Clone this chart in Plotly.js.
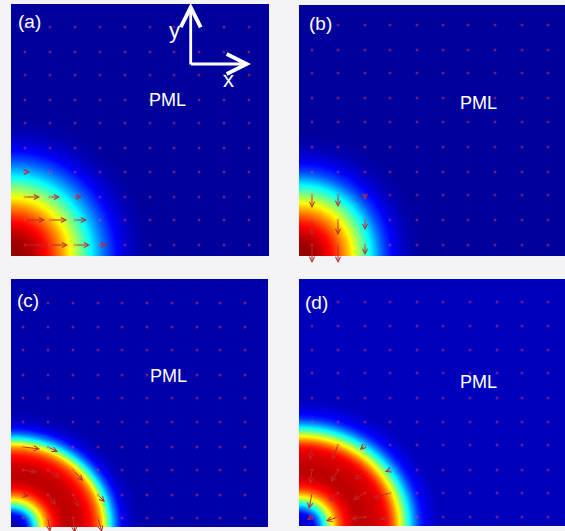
<!DOCTYPE html>
<html><head><meta charset="utf-8">
<script src="https://cdn.plot.ly/plotly-3.0.1.min.js"></script>
<style>html,body{margin:0;padding:0;background:#f4f4f6;}#chart{width:565px;height:531px;}</style>
</head><body><div id="chart"></div>
<script>
// ---- data ----
// radial intensity (0..1 on the jet scale), sampled every 5 units from the corner
const radiusStep = 5;
const profileA = [0.98,0.98,0.975,0.965,0.95,0.93,0.90,0.87,0.83,0.78,0.73,0.67,0.61,0.55,0.49,0.43,0.37,0.31,0.26,0.21,0.17,0.13,0.10,0.075,0.055,0.04,0.03,0.02];
const profileB = [0.98,0.98,0.975,0.96,0.94,0.91,0.88,0.84,0.79,0.73,0.67,0.60,0.53,0.46,0.39,0.32,0.25,0.19,0.15,0.11,0.08,0.06,0.04,0.03,0.02];
const profileC = [0.03,0.04,0.07,0.14,0.28,0.45,0.60,0.73,0.83,0.89,0.92,0.94,0.94,0.93,0.92,0.89,0.86,0.80,0.70,0.53,0.35,0.22,0.13,0.08,0.055,0.04];
const profileD = [0.06,0.065,0.08,0.14,0.25,0.40,0.55,0.68,0.79,0.86,0.90,0.93,0.94,0.94,0.93,0.92,0.91,0.89,0.84,0.75,0.63,0.50,0.37,0.26,0.17,0.12,0.09,0.07];
const backgroundA = 0.015, backgroundB = 0.015, backgroundC = 0.03, backgroundD = 0.05;
const ratioA = 1.0, ratioB = 1.0, ratioC = 0.9, ratioD = 0.9;

// quiver grid positions
const gridXA = [14,39,64,89,114,139,163,188,213,238];
const gridYA = [11,36,59,84,108,133,156,181,204,229];
const gridXB = [13,39,66,91,118,144,169,196,223,249];
const gridYB = [11,36,61,84,109,134,158,183,206,231];
const gridXC = [12,37,62,87,111,136,161,186,209,234];
const gridYC = [9,32,57,80,105,129,152,177,200,224];
const gridXD = [13,39,66,91,118,144,171,198,223,249];
const gridYD = [9,33,56,81,104,128,153,176,200,224];

// visible arrows: tail x, tail y, components u, v
const arrowXA = [14,39,64,89, 14,39,64,89, 14,39,64, 14,39];
const arrowYA = [11,11,11,11, 36,36,36,36, 59,59,59, 84,84];
const arrowUA = [22,18,15,7, 20,17,12,3, 15,10,7, 5,3];
const arrowVA = [0,0,0,0, 0,0,0,0, 0,0,0, 0,0];

const arrowXB = [13,39,66, 13,39,66,91, 13,39,66,91, 13,39];
const arrowYB = [11,11,11, 36,36,36,36, 61,61,61,61, 84,84];
const arrowUB = [0,0,0, 0,0,0,0, 0,0,0,0, 0,0];
const arrowVB = [-18,-18,-10, -15,-15,-10,-2, -13,-12,-5,-1, -3,-2];

const arrowXC = [12,37,62, 12,37,62,87, 12,37,62,87, 12,37,62,87];
const arrowYC = [80,80,80, 57,57,57,57, 32,32,32,32, 9,9,9,9];
const arrowUC = [17,10,3, 14,12,10,2, 6,8,6,7, 1,2,2,4];
const arrowVC = [-2,-5,-2, -2,-8,-11,-2, -1,-10,-12,-7, -3,-14,-15,-14];

const arrowXD = [13,39,66, 13,39,66,91, 13,39,66,91, 13,39,66,91];
const arrowYD = [81,81,81, 56,56,56,56, 33,33,33,33, 9,9,9,9];
const arrowUD = [-2,-6,-5, -2,-7,-10,-5, -3,-9,-12,-17, -5,-12,-14,-10];
const arrowVD = [-15,-15,-5, -14,-12,-10,-2, -16,-8,-7,-5, -3,-4,-2,-2];

const panelLabels = ['(a)','(b)','(c)','(d)'];
const regionLabel = 'PML';

// ---- construction ----
const heatX = Array.from({length:136},(_,i)=>i*2);
const heatY = Array.from({length:132},(_,i)=>i*2);
function profileAt(profile,bg,r){
  const vals=profile.concat([bg]);
  const t=r/radiusStep, i=Math.floor(t);
  if(i>=vals.length-1) return bg;
  const f=t-i;
  return vals[i]*(1-f)+vals[i+1]*f;
}
function buildZ(profile,bg,ratio){
  return heatY.map(y=>heatX.map(x=>{const yy=y/ratio;return profileAt(profile,bg,Math.sqrt(x*x+yy*yy));}));
}
const jet=[[0,'rgb(0,0,143)'],[0.125,'rgb(0,0,255)'],[0.375,'rgb(0,255,255)'],[0.625,'rgb(255,255,0)'],[0.875,'rgb(255,0,0)'],[1,'rgb(128,0,0)']];

const panels=[
  {p:profileA,bg:backgroundA,r:ratioA,gx:gridXA,gy:gridYA,ax:arrowXA,ay:arrowYA,au:arrowUA,av:arrowVA,
   xd:[11/565,269/565],yd:[1-256/531,1-4/531],xr:[0,258],yr:[0,252],lab:[18,234],pml:[156,156]},
  {p:profileB,bg:backgroundB,r:ratioB,gx:gridXB,gy:gridYB,ax:arrowXB,ay:arrowYB,au:arrowUB,av:arrowVB,
   xd:[299/565,1],yd:[1-256/531,1-5/531],xr:[0,266],yr:[0,251],lab:[21,232],pml:[179,153]},
  {p:profileC,bg:backgroundC,r:ratioC,gx:gridXC,gy:gridYC,ax:arrowXC,ay:arrowYC,au:arrowUC,av:arrowVC,
   xd:[11/565,268/565],yd:[1-527/531,1-279/531],xr:[0,257],yr:[0,248],lab:[17,227],pml:[157,151]},
  {p:profileD,bg:backgroundD,r:ratioD,gx:gridXD,gy:gridYD,ax:arrowXD,ay:arrowYD,au:arrowUD,av:arrowVD,
   xd:[299/565,1],yd:[1-526/531,1-279/531],xr:[0,266],yr:[0,247],lab:[17,224],pml:[179,144]}
];

const data=[], annotations=[];
const layout={width:565,height:531,margin:{l:0,r:0,t:0,b:0},paper_bgcolor:'#f4f4f6',plot_bgcolor:'#00008f',showlegend:false};
const labelFont={family:'Liberation Sans, Arial, sans-serif',color:'white'};
panels.forEach((pn,k)=>{
  const xs=k===0?'x':'x'+(k+1), ys=k===0?'y':'y'+(k+1);
  const xk=k===0?'xaxis':'xaxis'+(k+1), yk=k===0?'yaxis':'yaxis'+(k+1);
  const axBase={showgrid:false,zeroline:false,showticklabels:false,ticks:'',showline:false,fixedrange:true};
  layout[xk]=Object.assign({domain:pn.xd,range:pn.xr,anchor:ys},axBase);
  layout[yk]=Object.assign({domain:pn.yd,range:pn.yr,anchor:xs},axBase);
  data.push({type:'heatmap',x:heatX,y:heatY,z:buildZ(pn.p,pn.bg,pn.r),colorscale:jet,zmin:0,zmax:1,
    zsmooth:'best',showscale:false,xaxis:xs,yaxis:ys,hoverinfo:'skip'});
  const dx=[],dy=[];
  pn.gy.forEach(y=>pn.gx.forEach(x=>{dx.push(x);dy.push(y);}));
  data.push({type:'scatter',mode:'markers',x:dx,y:dy,xaxis:xs,yaxis:ys,hoverinfo:'skip',
    marker:{size:3,color:'rgba(235,60,90,0.45)',line:{width:0}}});
  pn.ax.forEach((tx,i)=>{
    annotations.push({xref:xs,yref:ys,axref:xs,ayref:ys,x:tx+pn.au[i],y:pn.ay[i]+pn.av[i],ax:tx,ay:pn.ay[i],
      text:'',showarrow:true,arrowhead:5,arrowsize:1,arrowwidth:1,arrowcolor:'rgb(190,40,40)'});
  });
  annotations.push({xref:xs,yref:ys,x:pn.lab[0],y:pn.lab[1],xanchor:'center',yanchor:'middle',text:panelLabels[k],showarrow:false,
    font:Object.assign({size:19},labelFont)});
  annotations.push({xref:xs,yref:ys,x:pn.pml[0],y:pn.pml[1],xanchor:'center',yanchor:'middle',text:regionLabel,showarrow:false,
    font:Object.assign({size:18},labelFont)});
});
// coordinate-axes glyph in panel (a)
annotations.push({xref:'paper',yref:'paper',x:190.7/565,y:1-3/531,ax:0,ay:63,text:'',showarrow:true,
  arrowhead:5,arrowsize:1.4,arrowwidth:2.8,arrowcolor:'white'});
annotations.push({xref:'paper',yref:'paper',x:251/565,y:1-64/531,ax:-61.5,ay:0,text:'',showarrow:true,
  arrowhead:5,arrowsize:1.4,arrowwidth:2.8,arrowcolor:'white'});
annotations.push({xref:'paper',yref:'paper',x:174/565,y:1-30/531,xanchor:'center',yanchor:'middle',text:'y',showarrow:false,font:Object.assign({size:22},labelFont)});
annotations.push({xref:'paper',yref:'paper',x:228/565,y:1-79/531,xanchor:'center',yanchor:'middle',text:'x',showarrow:false,font:Object.assign({size:22},labelFont)});
layout.annotations=annotations;
Plotly.newPlot('chart',data,layout,{staticPlot:true,displayModeBar:false});
</script></body></html>
